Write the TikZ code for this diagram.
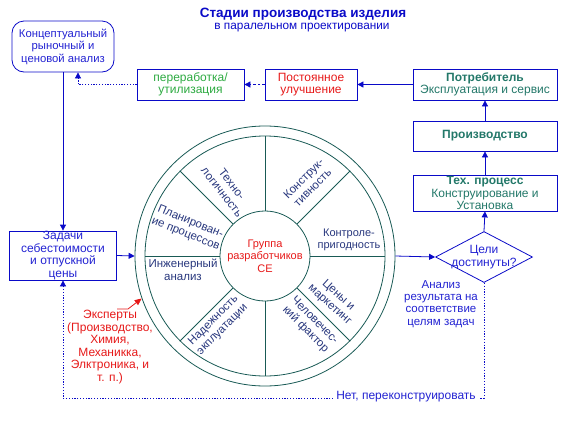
\documentclass[tikz,border=0pt]{standalone}
\usepackage{fontspec}
\setmainfont{Liberation Sans}
\usetikzlibrary{arrows.meta,shapes.geometric}
\definecolor{boxblue}{RGB}{10,10,200}
\definecolor{txtblue}{RGB}{35,35,210}
\definecolor{wline}{RGB}{25,90,85}
\definecolor{wtxt}{RGB}{40,55,125}
\definecolor{myred}{RGB}{230,25,25}
\definecolor{mygreen}{RGB}{45,170,65}
\definecolor{myteal}{RGB}{35,120,105}
\tikzset{
  base/.style={font=\fontsize{12}{12.5}\selectfont, align=center, inner sep=0pt},
  box/.style={base, draw=boxblue, line width=0.8pt},
  conn/.style={draw=boxblue, line width=0.8pt, -{Triangle[length=6pt,width=6pt]}},
  dotconn/.style={draw=boxblue, line width=0.8pt, dash pattern=on 1.2pt off 1.6pt, -{Triangle[length=6pt,width=6pt]}},
  dashconn/.style={draw=boxblue, line width=0.8pt, dash pattern=on 2.5pt off 2pt, -{Triangle[length=6pt,width=6pt]}},
  wheel/.style={circle, draw=wline, line width=0.8pt, inner sep=0pt},
  wlab/.style={base, text=wtxt, font=\fontsize{11.5}{12.8}\selectfont},
}
\begin{document}
\begin{tikzpicture}[x=1pt,y=-1pt]
\useasboundingbox (0,0) rectangle (571,426);
% title
\node[base, text=boxblue, font=\fontsize{13.5}{15}\selectfont\bfseries] (title) at (303,14) {Стадии производства изделия};
\node[base, text=boxblue, font=\fontsize{11.8}{13}\selectfont] (subtitle) at (302,27.5) {в паралельном проектировании};
% boxes
\node[box, text=txtblue, font=\fontsize{11.3}{12.5}\selectfont, rounded corners=12pt, minimum width=102pt, minimum height=51pt] (concept) at (63,46.5) {Концептуальный\\рыночный и\\ценовой анализ};
\node[box, text=mygreen, minimum width=107pt, minimum height=31pt] (pererab) at (190.5,84.5) {переработка/\\утилизация};
\node[box, text=myred, minimum width=92pt, minimum height=31pt] (improve) at (311,84.5) {Постоянное\\улучшение};
\node[box, text=myteal, minimum width=144pt, minimum height=31pt] (consumer) at (485,84.5) {\textbf{Потребитель}\\Эксплуатация и сервис};
\node[box, text=myteal, minimum width=144pt, minimum height=30pt] (prod) at (485,136) {\textbf{Производство}};
\node[box, text=myteal, minimum width=144pt, minimum height=36pt] (tech) at (485,193) {\textbf{Тех. процесс}\\Конструирование и\\Установка};
\node[box, text=txtblue, minimum width=107pt, minimum height=49pt] (tasks) at (63,255.5) {Задачи\\себестоимости\\и отпускной\\цены};
\node[diamond, draw=boxblue, line width=0.8pt, minimum width=97pt, minimum height=51pt, inner sep=0pt] (goal) at (484,257) {};
\node[base, text=txtblue] (goaltxt) at (484,257) {Цели\\достинуты?};
% wheel
\node[wheel, minimum size=260pt] (outer) at (265,256) {};
\node[wheel, minimum size=240pt] (middle) at (265,256) {};
\node[wheel, minimum size=90pt, text=myred, base, font=\fontsize{11}{12.5}\selectfont] (inner) at (265,256) {Группа\\разработчиков\\СЕ};
\foreach \a in {0,45,...,315} \draw[wline, line width=0.8pt] (inner.\a) -- (middle.\a);
\node[wlab, rotate=-52] (l1) at (227,188) {Техно-\\логичность};
\node[wlab, rotate=45] (l2) at (308,183) {Конструк-\\тивность};
\node[wlab, font=\fontsize{11}{12.5}\selectfont] (l3) at (349,240) {Контроле-\\пригодность};
\node[wlab, rotate=-42] (l4) at (334,300) {Цены и\\маркетинг};
\node[wlab, rotate=-45] (l5) at (310,325) {Человечес-\\кий фактор};
\node[wlab, rotate=45] (l6) at (218,325) {Надежность\\экплуатации};
\node[wlab] (l7) at (183,270) {Инженерный\\анализ};
\node[wlab, rotate=-22] (l8) at (188,228) {Планирован-\\ие процессов};
% free texts
\node[base, text=myred] (experts) at (110,347) {Эксперты\\(Производство,\\Химия,\\Механикка,\\Элктроника, и\\т. п.)};
\node[base, text=txtblue, font=\fontsize{11.5}{12.2}\selectfont] (analysis) at (441,304) {Анализ\\результата на\\соответствие\\целям задач};
% connectors
\draw[conn] (consumer.west) -- (improve.east);
\draw[dashconn] (improve.west) -- (pererab.east);
\draw[dotconn] (pererab.west) -| ([xshift=15pt]concept.south);
\draw[conn] (concept.south) -- (tasks.north);
\draw[conn] (tasks.east) -- (outer.west);
\draw[conn] (outer.east) -- (goal.west);
\draw[conn] (goal.north) -- (tech.south);
\draw[conn] (tech.north) -- (prod.south);
\draw[conn] (prod.north) -- (consumer.south);
\coordinate (nb) at (484,398);
\draw[dotconn] (goal.south) -- (nb) -| (tasks.south);
\node[base, text=txtblue, fill=white, inner xsep=3pt, inner ysep=1pt] (no) at (406,397) {Нет, переконструировать};
\coordinate (e1) at (117,309);
\draw[myred, line width=0.8pt, -{Triangle[length=7pt,width=6pt]}] (e1) -- ++(11,0) -- (outer.199);
\end{tikzpicture}
\end{document}
